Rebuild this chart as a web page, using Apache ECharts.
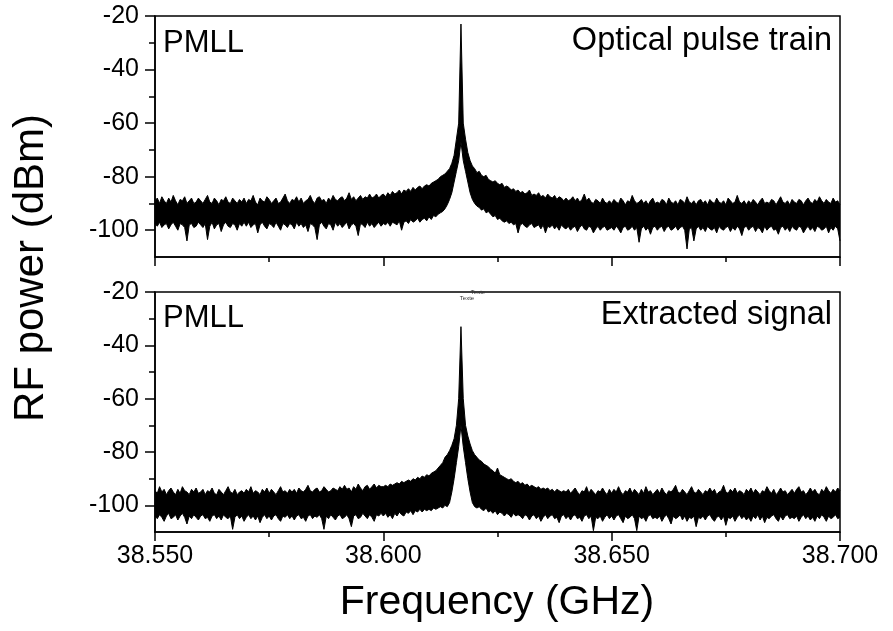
<!DOCTYPE html>
<html>
<head>
<meta charset="utf-8">
<script src="https://cdn.jsdelivr.net/npm/echarts@6/dist/echarts.min.js"></script>
<style>
html,body{margin:0;padding:0;background:#fff;}
#chart{width:893px;height:631px;}
</style>
</head>
<body>
<div id="chart"></div>
<script>
// Sampling grid of the spectrum (GHz)
const freqStartGHz = 38.55;
const freqStepGHz = 0.0005;

// Axis ticks
const xMajorTicks = [38.55, 38.60, 38.65, 38.70];
const xMinorTicks = [38.575, 38.625, 38.675];
const yMajorTicks = [-100, -80, -60, -40, -20];
const yMinorTicks = [-90, -70, -50, -30];

// Panel annotations
const panelLabelsLeft = ['PMLL', 'PMLL'];
const panelLabelsRight = ['Optical pulse train', 'Extracted signal'];

// Top panel (optical pulse train): upper / lower envelope of the trace (dBm)
const topUpper = [
-89,-88,-90,-87.5,-89,-90,-88,-89.5,-87,-89,-90.5,-88.5,-89,-87.5,-90,-89,-88,-90,-89.5,-88,
-89,-90,-88.5,-87,-89.5,-90,-88,-89,-90.5,-88.5,-89,-87.5,-89.5,-90,-88,-89,-90,-88.5,-89.5,-88,
-90,-88.5,-89,-87,-89.5,-90.5,-88,-89,-89.5,-87.5,-88.5,-90,-89,-88,-90,-89.5,-88,-86.5,-89,-90,
-88.5,-89,-87.5,-89.5,-88,-90,-89,-88.5,-87,-89,-90,-88,-87.5,-89,-88.5,-90,-88,-89,-87,-88.5,
-89,-88,-87.5,-89,-88,-86,-88.5,-87.5,-89,-88,-87,-88.5,-87.5,-88,-86.5,-88,-87.5,-86.5,-88,-87,
-86.5,-87.5,-86,-87,-85.5,-86.5,-86,-85,-86.5,-85,-85.5,-84.5,-85.5,-84,-85,-84,-83.5,-84.5,-83.5,-83,
-83.5,-82.5,-82,-81.5,-81,-80,-79.5,-79,-78,-77,-75,-72,-66,-60,-23,-60,-66,-71,-74,-76,
-77,-78.5,-78,-79.5,-80,-79.5,-81,-81.5,-82,-81.5,-82.5,-83,-82.5,-84,-83.5,-84,-85,-84.5,-85.5,-85,
-86,-85.5,-86.5,-86,-85,-87,-86.5,-87,-86,-87.5,-87,-88,-86.5,-87.5,-88,-87,-88.5,-87.5,-88,-89,
-88,-89,-88.5,-87.5,-89,-88,-89.5,-88.5,-86.5,-89,-88,-89.5,-90,-88.5,-89,-90,-88,-89.5,-90,-89,
-90,-88.5,-89.5,-90,-88,-89,-90.5,-89,-89.5,-87,-89,-90,-89.5,-88.5,-90,-89,-90.5,-89,-88,-90,
-89.5,-90,-88.5,-89,-90.5,-88,-89.5,-90,-89,-90.5,-88.5,-89,-90,-87.5,-89.5,-90,-89,-90.5,-89,-88.5,
-90,-89,-90.5,-88.5,-89.5,-90,-88,-89.5,-90,-89,-90.5,-88,-89,-90,-89.5,-87,-89.5,-90,-89,-90.5,
-89,-90,-88.5,-89.5,-90.5,-89,-88,-90,-89.5,-90,-88.5,-89,-90.5,-89,-87.5,-89.5,-90,-89,-90.5,-88.5,
-89.5,-90,-88.5,-89,-90.5,-89,-88,-89.5,-90,-88.5,-89.5,-87.5,-89,-90,-88.5,-89.5,-90,-88,-89.5,-89,
-90.5
];
const topLower = [
-97.5,-98.5,-97,-99,-98,-97.5,-99.5,-98,-97,-98.5,-100,-97.5,-98,-99,-104,-98,-97.5,-99,-98.5,-97,
-98,-99,-97.5,-103.5,-98.5,-97,-99.5,-98,-97.5,-100.5,-98,-97,-98.5,-99,-97.5,-98,-100,-97.5,-98.5,-97,
-98.5,-97,-99,-98,-97.5,-101,-98,-97,-98.5,-99.5,-97.5,-98,-99,-97,-98.5,-100,-97.5,-98,-99,-97.5,
-98,-99.5,-97,-98.5,-97.5,-99,-98,-100.5,-97.5,-98,-99,-103.5,-98,-97,-98.5,-99.5,-97.5,-98,-100,-97,
-98.5,-97.5,-99,-98,-97,-99.5,-98,-97.5,-98.5,-102,-97.5,-98,-99,-97,-98.5,-97.5,-99,-98,-97,-98.5,
-97.5,-98,-97,-98.5,-97,-97.5,-98,-96.5,-100,-97,-96.5,-97.5,-96,-97,-96.5,-95.5,-97,-96,-95.5,-96.5,
-95,-96,-94.5,-95,-94,-93.5,-93,-92,-90.5,-88.5,-86,-82,-78,-74,-67,-74,-78,-82,-86,-88.5,
-90,-91,-91.5,-92.5,-92,-93.5,-93,-94,-95,-94.5,-96,-95.5,-96.5,-97,-96.5,-97.5,-97,-98,-97.5,-101,
-98,-97.5,-98.5,-99,-98,-97.5,-99,-98.5,-98,-99.5,-98,-101,-98.5,-99,-98,-99.5,-98.5,-100,-98,-99,
-99.5,-98.5,-100,-99,-98.5,-100.5,-99,-98,-99.5,-100,-98.5,-99,-101,-99.5,-98.5,-100,-99,-98.5,-100,-99.5,
-99,-100,-98.5,-99.5,-101,-99,-98.5,-100,-99.5,-98.5,-100,-99,-104.5,-99.5,-98.5,-100,-99,-101.5,-99,-98.5,
-100,-99,-98.5,-100.5,-99,-98.5,-100,-99.5,-98.5,-100,-99,-98.5,-100,-107,-99.5,-99,-104,-99.5,-98.5,-100,
-99,-100.5,-98.5,-99.5,-100,-99,-101,-98.5,-99.5,-100,-99,-98.5,-100.5,-99,-100,-98.5,-99.5,-102,-99,-98.5,
-100,-99,-98.5,-100.5,-99,-99.5,-101,-98.5,-100,-99,-98.5,-100,-99.5,-101.5,-99,-98.5,-100,-99,-100.5,-98.5,
-99.5,-100,-98.5,-99,-101,-99.5,-98.5,-100,-99,-100.5,-98.5,-99,-100,-99.5,-98.5,-101,-99,-100,-98.5,-99.5,
-104
];

// Bottom panel (extracted signal): upper / lower envelope of the trace (dBm)
const bottomUpper = [
-94.5,-95.5,-93,-95,-94,-96,-94.5,-93.5,-95,-96,-94,-95.5,-93,-94.5,-95,-96,-94,-95,-93.5,-95.5,
-95,-94,-96,-94.5,-95,-93.5,-95.5,-96,-94,-95,-96,-94.5,-93,-95,-95.5,-94,-96,-95,-94.5,-95.5,
-94,-95,-93,-95.5,-94.5,-95,-96,-94,-95,-93.5,-95.5,-94,-95,-96,-94.5,-93,-95,-94.5,-95.5,-94,
-95,-94,-95.5,-93.5,-94.5,-95,-94,-92.5,-94.5,-95,-94,-93.5,-95,-94.5,-93,-94,-95,-94.5,-93.5,-94,
-94.5,-93,-94,-92.5,-94,-93.5,-95,-93,-94,-92,-93.5,-94.5,-93,-92.5,-94,-93,-92,-93.5,-92.5,-93,
-93,-92.5,-93,-92,-92.5,-92,-91.5,-92,-91,-91.5,-91,-90.5,-91,-90,-90.5,-89.5,-90,-89,-89.5,-88.5,
-89,-88,-87.5,-87,-86,-85,-84,-82,-81,-79.5,-77.5,-75,-70,-60,-33,-60,-70,-74,-77,-79.5,
-81,-82,-83,-83.5,-84.5,-85,-85.5,-86.5,-87,-88,-86,-88.5,-89,-89.5,-90,-90.5,-90,-91,-91.5,-91,
-92,-91.5,-92.5,-92,-93,-92.5,-93,-93.5,-93,-94,-93.5,-94,-93.5,-94.5,-94,-95,-94,-94.5,-95,-94.5,
-95,-94,-95.5,-94.5,-93.5,-95,-96,-94.5,-95,-93,-95.5,-94,-95,-96,-94.5,-95,-93.5,-95,-96,-94,
-95.5,-94,-95,-93,-95,-96,-94.5,-95,-93.5,-95.5,-94,-95,-96,-94,-95.5,-93,-95,-94.5,-96,-95,
-94,-95.5,-93.5,-95,-96,-94.5,-95,-94,-92.5,-95,-95.5,-94,-95,-96,-94.5,-93,-95,-95.5,-94,-95,
-96,-94.5,-95,-93.5,-95,-94,-96,-95,-94.5,-92.5,-95,-95.5,-94,-95,-93.5,-95.5,-94.5,-95,-96,-94,
-95,-93.5,-95.5,-94,-95,-96,-94.5,-95,-93,-94.5,-95.5,-94,-96,-95,-93.5,-95,-94.5,-96,-95,-94,
-95.5,-94,-93,-95,-94.5,-96,-95,-93.5,-95,-94,-95.5,-96,-94,-95,-93,-94.5,-95.5,-94,-95,-93.5,
-94.5
];
const bottomLower = [
-104,-105,-103.5,-104.5,-106,-104,-103,-105,-104.5,-103.5,-105.5,-104,-103,-104.5,-107,-104,-105,-103.5,-104.5,-105.5,
-104,-103.5,-105,-104.5,-106,-104,-103.5,-105,-104,-105.5,-103.5,-104.5,-105,-104,-109,-104.5,-103.5,-105,-104,-106,
-104.5,-103.5,-105,-104,-105.5,-104,-106.5,-104.5,-103.5,-105,-104,-105.5,-104,-103.5,-105,-106,-104,-104.5,-103.5,-105,
-104,-105.5,-104,-103.5,-105,-104.5,-106,-104,-103.5,-105,-104,-104.5,-103.5,-105,-109,-104,-105,-103.5,-104.5,-105.5,
-104,-103.5,-105,-104.5,-103.5,-105,-108,-104,-103.5,-105,-104.5,-103,-104,-105,-103.5,-104.5,-106,-103.5,-104,-103,
-104,-103,-104.5,-103.5,-105,-103,-104,-102.5,-103.5,-104,-102.5,-103,-102,-103.5,-102,-102.5,-101.5,-102.5,-101.5,-102,
-101.5,-102,-101,-101.5,-101,-100.5,-101,-100,-100.5,-99,-95,-90,-84,-78,-70,-78,-84,-90,-95,-99,
-100.5,-101,-100.5,-101.5,-102,-101,-102.5,-102,-103,-102,-103.5,-102.5,-103,-104,-103,-103.5,-104.5,-103,-104,-103.5,
-104,-105,-103.5,-104,-105.5,-104,-103.5,-105,-104,-106,-104.5,-103.5,-105,-104,-103.5,-105,-104.5,-106.5,-104,-103.5,
-105,-104,-105.5,-104,-103.5,-105,-104.5,-106,-104,-103.5,-105,-104,-109.5,-104.5,-105,-104,-106,-104.5,-103.5,-105,
-104,-105.5,-104,-103.5,-105,-106.5,-104,-105,-104.5,-103.5,-105,-109.5,-104,-105,-104.5,-106,-104,-103.5,-105,-104.5,
-105,-104,-106,-104.5,-103.5,-105,-107,-104,-105,-104.5,-103.5,-105.5,-104,-106,-104.5,-105,-104,-108,-104.5,-105,
-104,-105.5,-104,-103.5,-105,-106,-104.5,-104,-105.5,-104,-107.5,-104.5,-105,-104,-106,-104.5,-103.5,-105,-104,-105.5,
-104.5,-106,-104,-105,-103.5,-105.5,-104,-106.5,-104.5,-105,-104,-103.5,-105,-106,-104,-105.5,-104,-103.5,-105,-104.5,
-105,-104,-106,-104.5,-103.5,-105,-104,-105.5,-104.5,-106,-104,-105,-103.5,-104.5,-106,-104,-105,-104.5,-103.5,-105,
-104.5
];

const FONT = "'Liberation Sans', Arial, Helvetica, sans-serif";
const BLACK = '#000';

function toPairs(values) {
  return values.map((v, i) => [+(freqStartGHz + i * freqStepGHz).toFixed(5), v]);
}

function xMajor(gridIndex, showLabels) {
  return {
    type: 'value', gridIndex, min: 38.55, max: 38.70, position: 'bottom', z: 5,
    axisLine: { show: true, onZero: false, lineStyle: { color: BLACK, width: 1.5 } },
    axisTick: { show: true, inside: false, length: 9, lineStyle: { color: BLACK, width: 1.5 }, customValues: xMajorTicks },
    axisLabel: { show: showLabels, customValues: xMajorTicks, margin: 12, fontSize: 25, color: BLACK, fontFamily: FONT,
      formatter: v => v.toFixed(3) },
    splitLine: { show: false }
  };
}
function xMinor(gridIndex) {
  return {
    type: 'value', gridIndex, min: 38.55, max: 38.70, position: 'bottom', z: 5,
    axisLine: { show: false, onZero: false },
    axisTick: { show: true, inside: false, length: 5, lineStyle: { color: BLACK, width: 1.5 }, customValues: xMinorTicks },
    axisLabel: { show: false },
    splitLine: { show: false }
  };
}
function yMajor(gridIndex) {
  return {
    type: 'value', gridIndex, min: -110, max: -20, position: 'left', z: 5,
    axisLine: { show: true, onZero: false, lineStyle: { color: BLACK, width: 1.5 } },
    axisTick: { show: true, inside: false, length: 10, lineStyle: { color: BLACK, width: 1.5 }, customValues: yMajorTicks },
    axisLabel: { show: true, customValues: yMajorTicks, margin: 16, fontSize: 25, color: BLACK, fontFamily: FONT },
    splitLine: { show: false }
  };
}
function yMinor(gridIndex) {
  return {
    type: 'value', gridIndex, min: -110, max: -20, position: 'left', offset: 0, z: 5,
    axisLine: { show: false, onZero: false },
    axisTick: { show: true, inside: false, length: 6, lineStyle: { color: BLACK, width: 1.5 }, customValues: yMinorTicks },
    axisLabel: { show: false },
    splitLine: { show: false }
  };
}

// Black area from the upper envelope down to the axis start, then white area from
// the lower envelope down to the axis start: the black band remains between them.
function traceSeries(upper, lower, xi, yi) {
  return [
    {
      type: 'line', xAxisIndex: xi, yAxisIndex: yi, data: toPairs(upper),
      symbol: 'none', silent: true, z: 2,
      lineStyle: { color: BLACK, width: 1 },
      areaStyle: { color: BLACK, opacity: 1, origin: 'start' }
    },
    {
      type: 'line', xAxisIndex: xi, yAxisIndex: yi, data: toPairs(lower),
      symbol: 'none', silent: true, z: 2,
      lineStyle: { color: BLACK, width: 1 },
      areaStyle: { color: '#fff', opacity: 1, origin: 'start' }
    }
  ];
}

const chart = echarts.init(document.getElementById('chart'), null, { renderer: 'canvas' });
chart.setOption({
  animation: false,
  backgroundColor: '#fff',
  grid: [
    { left: 155, top: 16, width: 685, height: 241 },
    { left: 155, top: 292, width: 685, height: 240 }
  ].map(g => Object.assign({
    show: true, borderColor: BLACK, borderWidth: 1.5, backgroundColor: 'transparent',
    containLabel: false, outerBoundsMode: 'none', z: 5
  }, g)),
  xAxis: [xMajor(0, false), xMinor(0), xMajor(1, true), xMinor(1)],
  yAxis: [yMajor(0), yMinor(0), yMajor(1), yMinor(1)],
  series: [
    ...traceSeries(topUpper, topLower, 0, 0),
    ...traceSeries(bottomUpper, bottomLower, 2, 2)
  ],
  graphic: [
    { type: 'text', left: 163, top: 28, z: 10, style: { text: panelLabelsLeft[0], font: '31px ' + FONT, fill: BLACK } },
    { type: 'text', right: 61, top: 25, z: 10, style: { text: panelLabelsRight[0], font: '32.5px ' + FONT, fill: BLACK } },
    { type: 'text', left: 163, top: 303, z: 10, style: { text: panelLabelsLeft[1], font: '31px ' + FONT, fill: BLACK } },
    { type: 'text', right: 61, top: 299, z: 10, style: { text: panelLabelsRight[1], font: '32.5px ' + FONT, fill: BLACK } },
    { type: 'text', x: 478, y: 292, z: 10, style: { text: 'Texte', font: '6px ' + FONT, fill: '#333', textAlign: 'center', textVerticalAlign: 'middle' } },
    { type: 'text', x: 467, y: 298, z: 10, style: { text: 'Texte', font: '6px ' + FONT, fill: '#333', textAlign: 'center', textVerticalAlign: 'middle' } },
    { type: 'text', x: 31, y: 268, rotation: Math.PI / 2, z: 10,
      style: { text: 'RF power (dBm)', font: '42px ' + FONT, fill: BLACK, textAlign: 'center', textVerticalAlign: 'middle' } },
    { type: 'text', x: 497, y: 603, z: 10,
      style: { text: 'Frequency (GHz)', font: '41px ' + FONT, fill: BLACK, textAlign: 'center', textVerticalAlign: 'middle' } }
  ]
});
</script>
</body>
</html>
